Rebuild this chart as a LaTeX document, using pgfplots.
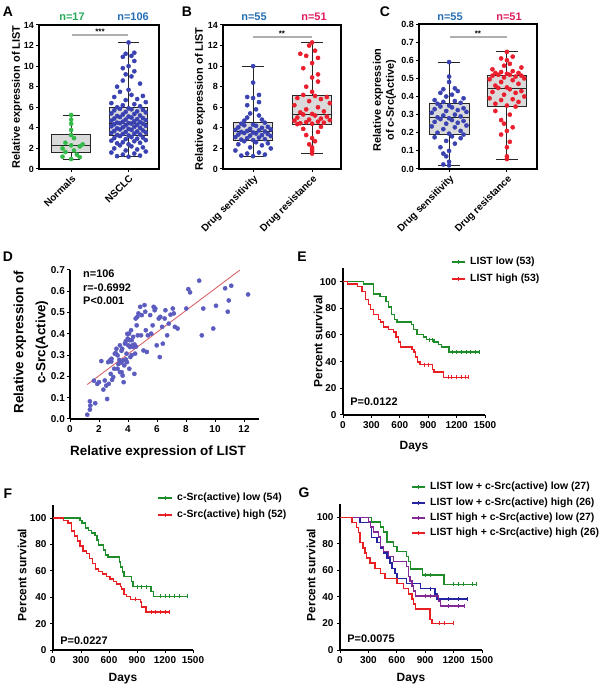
\documentclass[border=0pt]{standalone}
\usepackage{fontspec}
\setmainfont{Liberation Sans}
\usepackage{pgfplots}
\pgfplotsset{compat=1.18}
\usepgfplotslibrary{statistics}
\definecolor{ptgreen}{RGB}{52,186,72}
\definecolor{ptblue}{RGB}{58,66,178}
\definecolor{ptred}{RGB}{234,30,44}
\definecolor{ngreen}{RGB}{40,170,90}
\definecolor{nblue}{RGB}{35,110,180}
\definecolor{nred}{RGB}{222,30,90}
\definecolor{boxgray}{RGB}{218,218,218}
\definecolor{sigray}{RGB}{175,175,175}
\definecolor{dpt}{RGB}{92,92,192}
\definecolor{dline}{RGB}{222,96,104}
\definecolor{kmgreen}{RGB}{30,140,40}
\definecolor{kmred}{RGB}{232,32,36}
\definecolor{kmblue}{RGB}{36,36,160}
\definecolor{kmpurple}{RGB}{132,40,150}
\newcommand{\fs}[1]{\fontsize{#1}{#1}\selectfont\bfseries}
\newcommand{\legrow}[5]{%
  \draw[#4, line width=1.4bp] (#1bp,#3bp) -- (#2bp,#3bp);
  \draw[#4, line width=0.9bp] ({(#1+#2)/2*1bp},#3bp-2bp) -- ({(#1+#2)/2*1bp},#3bp+2bp);
  \node[anchor=west, inner sep=0pt, font=\fs{10.5}] at (#2bp+5bp,#3bp) {#5};}
\pgfplotsset{
  base/.style={
    scale only axis, anchor=south west,
    /pgf/number format/assume math mode=true,
    /pgf/number format/1000 sep={},
    tick align=outside, major tick length=3bp,
    tick style={line width=1bp, black},
    axis line style={-, line width=1.2bp, black},
    ticklabel style={font=\fs{9}},
    clip=false, tick pos=left,
  },
  boxax/.style={base, xtick={1,2}, ymin=0,
    xticklabel style={rotate=45, anchor=north east, font=\fs{10}, inner sep=1.5bp},
    yticklabel style={inner sep=2bp},
    width=118bp, height=144bp},
  bp/.style={draw=black!85, fill=boxgray, line width=0.9bp},
  pts/.style={only marks, mark=*, mark size=2.1bp, color=#1},
  km/.style={base, axis x line*=bottom, axis y line*=left, xmin=0, xmax=1500, ymin=0, ymax=110,
    xtick={0,300,600,900,1200,1500}, ytick={0,20,40,60,80,100},
    ticklabel style={font=\fs{10}}, width=142bp, height=146.7bp},
  kml/.style={const plot, color=#1, line width=1.4bp},
  cen/.style={only marks, mark=|, mark size=2bp, color=#1, mark options={line width=0.8bp}},
}
\begin{document}
\begin{tikzpicture}

% ---------------- A
\begin{scope}[shift={(39bp,520bp)}]
\begin{axis}[boxax, at={(0pt,0pt)}, width=120bp, xmin=0.44, xmax=2.53, ymax=14,
  ytick={0,2,4,6,8,10,12,14}, xticklabels={Normals,NSCLC}]
\addplot[bp, boxplot prepared={draw direction=y, lower whisker=0.97, lower quartile=1.65, median=2.3, upper quartile=3.33, upper whisker=5.25, draw position=1, box extend=0.67, whisker extend=0.3}] coordinates {};
\addplot[bp, boxplot prepared={draw direction=y, lower whisker=1.2, lower quartile=3.23, median=4.46, upper quartile=6.01, upper whisker=12.3, draw position=2, box extend=0.67, whisker extend=0.38}] coordinates {};
\addplot[pts=ptgreen] coordinates {(1.0,0.97)(1.15,1.15)(0.85,1.2)(1.1,1.4)(0.9,1.65)(1.05,1.8)(0.85,2.0)(1.15,2.2)(1.0,2.3)(1.2,2.4)(0.9,2.55)(1.05,3.0)(1.0,3.3)(1.0,3.8)(1.0,4.4)(1.0,4.8)(1.0,5.25)};
\addplot[pts=ptblue] coordinates {
(2,1.2)(1.8,1.25)(2.2,1.3)(1.9,1.4)(2.1,1.5)(1.7,1.6)(2.3,1.7)(1.95,1.8)(2.15,1.9)(1.75,2.0)(2.25,2.1)(2.05,2.2)(1.85,2.3)
(2,2.4)(1.8,2.5)(2.2,2.55)(1.9,2.6)(2.1,2.7)(1.7,2.75)(2.3,2.8)(1.95,2.9)(2.15,2.95)(1.75,3.0)(2.25,3.05)(2.05,3.1)(1.85,3.2)
(2,3.25)(1.8,3.3)(2.2,3.35)(1.9,3.4)(2.1,3.45)(1.7,3.5)(2.3,3.55)(1.95,3.6)(2.15,3.65)(1.75,3.7)(2.25,3.75)(2.05,3.8)(1.85,3.85)
(2,3.9)(1.8,3.95)(2.2,4.0)(1.9,4.05)(2.1,4.1)(1.7,4.15)(2.3,4.2)(1.95,4.25)(2.15,4.3)(1.75,4.35)(2.25,4.4)(2.05,4.42)(1.85,4.45)
(2,4.46)(1.8,4.5)(2.2,4.55)(1.9,4.6)(2.1,4.65)(1.7,4.7)(2.3,4.75)(1.95,4.8)(2.15,4.85)(1.75,4.9)(2.25,4.95)(2.05,5.0)(1.85,5.05)
(2,5.1)(1.8,5.15)(2.2,5.2)(1.9,5.3)(2.1,5.35)(1.7,5.4)(2.3,5.5)(1.95,5.55)(2.15,5.6)(1.75,5.7)(2.25,5.75)(2.05,5.8)(1.85,5.85)
(2,5.9)(1.8,6.0)(2.2,6.1)(1.9,6.2)(2.1,6.3)(1.7,6.4)(2.3,6.5)(1.95,6.7)(2.15,6.8)(1.75,7.0)(2.25,7.1)(2.05,7.2)(1.85,7.5)
(2,7.7)(1.8,8.0)(2.2,8.3)(1.9,8.6)(2.05,9.0)(1.95,9.2)(2.1,9.5)(1.9,9.8)(2.0,10.0)(2.1,10.5)(1.9,10.9)(2.05,11.0)(1.95,11.2)(2.1,11.3)(2.0,12.3)};
\end{axis}
\end{scope}

% ---------------- B
\begin{scope}[shift={(223bp,520bp)}]
\begin{axis}[boxax, at={(0pt,0pt)}, xmin=0.49, xmax=2.49, ymax=14,
  ytick={0,2,4,6,8,10,12,14}, xticklabels={Drug sensitivity,Drug resistance}]
\addplot[bp, boxplot prepared={draw direction=y, lower whisker=1.25, lower quartile=2.8, median=3.65, upper quartile=4.5, upper whisker=10.0, draw position=1, box extend=0.67, whisker extend=0.38}] coordinates {};
\addplot[bp, boxplot prepared={draw direction=y, lower whisker=1.5, lower quartile=4.36, median=5.33, upper quartile=7.18, upper whisker=12.3, draw position=2, box extend=0.67, whisker extend=0.38}] coordinates {};
\addplot[pts=ptblue] coordinates {
(1,1.25)(0.8,1.3)(1.2,1.4)(0.9,1.5)(1.1,1.6)(0.7,1.8)(1.3,2.0)(0.95,2.1)(1.15,2.3)(0.75,2.4)(1.25,2.5)(1.05,2.6)(0.85,2.7)
(1,2.8)(0.8,2.85)(1.2,2.9)(0.9,3.0)(1.1,3.05)(0.7,3.1)(1.3,3.2)(0.95,3.25)(1.15,3.3)(0.75,3.35)(1.25,3.4)(1.05,3.45)(0.85,3.5)
(1,3.55)(0.8,3.6)(1.2,3.65)(0.9,3.7)(1.1,3.75)(0.7,3.8)(1.3,3.85)(0.95,3.9)(1.15,4.0)(0.75,4.05)(1.25,4.1)(1.05,4.2)(0.85,4.25)
(1,4.3)(0.8,4.4)(1.2,4.5)
(0.85,4.7)(1.15,4.8)(0.9,5.0)(1.1,5.2)(0.95,5.4)(1.05,5.8)(0.9,6.2)(1.1,6.5)(1.0,6.9)(0.9,7.0)(1.1,7.2)(1.0,8.4)(1.0,10.0)};
\addplot[pts=ptred] coordinates {
(2,1.5)(2,1.7)(2,1.9)(2,2.1)(1.95,2.4)(2.05,2.7)(2,3.0)(1.9,3.3)(2.1,3.6)(1.85,3.9)(2.15,4.1)(1.75,4.36)
(2,4.4)(1.8,4.45)(2.2,4.5)(1.9,4.55)(2.1,4.6)(1.7,4.7)(2.3,4.75)(1.95,4.8)(2.15,4.9)(1.75,5.0)(2.25,5.1)(2.05,5.2)(1.85,5.3)
(2,5.35)(1.8,5.5)(2.2,5.6)(1.9,5.8)(2.1,6.0)(1.7,6.2)(2.3,6.4)(1.95,6.6)(2.15,6.8)(1.75,6.9)(2.25,7.0)(2.05,7.1)(1.85,7.2)
(2.0,7.5)(1.9,8.0)(2.1,8.5)(2.0,8.9)(2.1,9.2)(1.85,9.8)(2.0,10.3)(2.1,10.8)(1.9,11.0)(1.8,11.2)(2.05,11.5)(1.95,12.0)(2.0,12.3)};
\end{axis}
\end{scope}

% ---------------- C
\begin{scope}[shift={(419bp,520bp)}]
\begin{axis}[boxax, at={(0pt,0pt)}, height=145bp, xmin=0.48, xmax=2.52, ymax=0.8,
  ytick={0,0.1,0.2,0.3,0.4,0.5,0.6,0.7,0.8},
  yticklabel style={/pgf/number format/fixed, /pgf/number format/fixed zerofill, /pgf/number format/precision=1},
  xticklabels={Drug sensitivity,Drug resistance}]
\addplot[bp, boxplot prepared={draw direction=y, lower whisker=0.02, lower quartile=0.19, median=0.285, upper quartile=0.36, upper whisker=0.59, draw position=1, box extend=0.69, whisker extend=0.38}] coordinates {};
\addplot[bp, boxplot prepared={draw direction=y, lower whisker=0.055, lower quartile=0.344, median=0.447, upper quartile=0.515, upper whisker=0.646, draw position=2, box extend=0.69, whisker extend=0.38}] coordinates {};
\addplot[pts=ptblue] coordinates {
(1.0,0.02)(0.9,0.025)(1.0,0.04)(0.95,0.07)(0.9,0.085)(1.0,0.1)(0.85,0.12)(1.1,0.14)(0.95,0.155)(1.2,0.17)(0.75,0.175)(1.05,0.18)(1.25,0.19)
(1,0.195)(0.8,0.2)(1.2,0.21)(0.9,0.22)(1.1,0.23)(0.7,0.235)(1.3,0.24)(0.95,0.25)(1.15,0.255)(0.75,0.26)(1.25,0.265)(1.05,0.27)(0.85,0.275)(1,0.28)
(0.8,0.285)(1.2,0.29)(0.9,0.295)(1.1,0.3)(0.7,0.31)(1.3,0.315)(0.95,0.32)(1.15,0.325)(0.75,0.33)(1.25,0.335)(1.05,0.34)(0.85,0.345)(1,0.35)(0.8,0.36)
(1.2,0.365)(0.9,0.37)(1.1,0.375)(0.75,0.38)(1.25,0.39)(0.95,0.4)(1.05,0.41)(0.85,0.42)(1.15,0.43)(0.9,0.44)(1.1,0.445)(1.0,0.48)(1.0,0.51)(1.0,0.59)};
\addplot[pts=ptred] coordinates {
(2,0.055)(2,0.07)(2.0,0.12)(2.05,0.15)(1.9,0.19)(2.0,0.21)(2.1,0.23)(1.95,0.25)(1.9,0.27)(2.05,0.3)(1.8,0.32)(2.15,0.344)
(2,0.35)(1.8,0.36)(2.2,0.37)(1.9,0.38)(2.1,0.385)(1.7,0.39)(2.3,0.4)(1.95,0.41)(2.15,0.42)(1.75,0.425)(2.25,0.43)(2.05,0.44)(1.85,0.447)
(2,0.45)(1.8,0.46)(2.2,0.47)(1.9,0.48)(2.1,0.49)(1.7,0.495)(2.3,0.5)(1.95,0.505)(2.15,0.51)(1.75,0.515)(2.25,0.515)(2.05,0.52)(1.85,0.52)
(2,0.525)(1.8,0.53)(2.2,0.53)(1.9,0.535)(2.1,0.54)(1.75,0.55)(2.25,0.56)(1.95,0.57)(2.05,0.58)(2.0,0.6)(1.9,0.61)(2.1,0.62)(2.0,0.646)};
\end{axis}
\end{scope}

% ---------------- D
\begin{scope}[shift={(70bp,270bp)}]
\begin{axis}[base, at={(0pt,0pt)}, width=188.5bp, height=149bp, axis x line*=bottom, axis y line*=left,
  xmin=0, xmax=13, ymin=0, ymax=0.7, xtick={0,2,4,6,8,10,12}, ytick={0,0.1,0.2,0.3,0.4,0.5,0.6,0.7},
  yticklabel style={/pgf/number format/fixed, /pgf/number format/fixed zerofill, /pgf/number format/precision=1, inner sep=2bp},
  ticklabel style={font=\fs{10}}]
\addplot[only marks, mark=*, mark size=2.1bp, color=dpt] coordinates {
(1.19,0.02)(1.37,0.044)(1.40,0.063)(1.37,0.083)(1.74,0.074)(1.65,0.18)(1.88,0.165)(2.00,0.173)(2.16,0.272)(2.30,0.138)
(2.40,0.181)(2.56,0.094)(2.50,0.157)(2.67,0.165)(2.63,0.267)(2.74,0.275)(2.86,0.283)(2.81,0.212)(2.98,0.197)(2.90,0.184)
(3.05,0.236)(3.09,0.307)(3.20,0.330)(3.28,0.299)(3.28,0.236)(3.33,0.258)(3.40,0.278)(3.44,0.346)(3.51,0.264)(3.56,0.220)
(3.60,0.330)(3.63,0.204)(3.67,0.275)(3.70,0.173)(3.74,0.252)(3.79,0.354)(3.84,0.365)(3.90,0.307)(3.93,0.267)(3.98,0.378)
(4.02,0.346)(4.07,0.401)(4.09,0.236)(4.14,0.338)(4.16,0.291)(4.21,0.417)(4.26,0.370)(4.30,0.346)(4.35,0.386)(4.40,0.338)
(4.44,0.212)(4.49,0.307)(4.53,0.472)(4.60,0.440)(4.65,0.480)(4.72,0.496)(4.67,0.393)(4.84,0.527)(4.90,0.393)(4.95,0.488)
(5.07,0.322)(5.14,0.535)(5.19,0.504)(5.23,0.417)(5.30,0.315)(5.37,0.393)(5.53,0.488)(5.60,0.401)(5.70,0.440)(5.77,0.527)
(5.84,0.511)(5.88,0.519)(5.98,0.346)(6.12,0.472)(6.19,0.291)(6.23,0.480)(6.35,0.433)(6.40,0.354)(6.53,0.472)(6.58,0.511)
(6.70,0.393)(6.81,0.448)(6.93,0.490)(7.09,0.519)(7.16,0.496)(7.23,0.433)(7.42,0.425)(8.02,0.519)(8.16,0.610)(8.28,0.595)
(8.91,0.650)(9.09,0.393)(9.19,0.519)(9.88,0.425)(10.07,0.532)(10.70,0.614)(10.88,0.504)(10.95,0.557)(11.12,0.626)(12.28,0.585)
(3.15,0.31)(3.45,0.22)(3.95,0.40)(4.12,0.37)(4.45,0.35)(4.55,0.34)(3.85,0.28)(4.25,0.30)(2.85,0.27)(3.55,0.32)};
\addplot[dline, line width=0.9bp] coordinates {(1.19,0.162)(11.72,0.70)};
\end{axis}
\end{scope}

% ---------------- E
\begin{scope}[shift={(343bp,274bp)}]
\begin{axis}[km, at={(0pt,0pt)}]
\addplot[kml=kmgreen] coordinates {(0,100)(215,98.1)(320,90.6)(390,88.7)(455,84.9)(480,81.1)(515,75.5)(545,71.7)(570,69.8)(725,67.9)(745,64.2)(780,60.4)(850,58.5)(885,56.6)(960,54.7)(1010,52.8)(1040,50.9)(1120,47.2)(1440,47.2)};
\addplot[kml=kmred] coordinates {(0,100)(50,98.1)(150,96.2)(200,92.5)(235,86.8)(270,83.0)(290,79.2)(320,75.5)(375,71.7)(395,69.8)(430,66.0)(480,64.2)(535,62.3)(560,58.5)(585,54.7)(610,50.9)(730,49.1)(750,47.2)(765,43.4)(790,39.6)(815,37.7)(945,34.0)(960,32.1)(1060,28.3)(1320,28.3)};
\addplot[cen=kmgreen] coordinates {(910,56.6)(940,56.6)(1160,47.2)(1200,47.2)(1250,47.2)(1300,47.2)(1350,47.2)(1400,47.2)(1440,47.2)};
\addplot[cen=kmred] coordinates {(860,37.7)(900,37.7)(1110,28.3)(1150,28.3)(1200,28.3)(1250,28.3)(1290,28.3)(1320,28.3)};
\end{axis}
\end{scope}

% ---------------- F
\begin{scope}[shift={(53bp,39bp)}]
\begin{axis}[km, at={(0pt,0pt)}, width=140bp, height=145bp]
\addplot[kml=kmgreen] coordinates {(0,100)(290,98.1)(310,96.3)(345,92.6)(380,90.7)(415,88.9)(450,87.0)(470,83.3)(490,79.6)(540,75.9)(560,72.2)(590,70.4)(710,66.7)(725,63.0)(745,59.3)(760,55.6)(840,51.9)(855,48.1)(1050,44.4)(1075,40.7)(1440,40.7)};
\addplot[kml=kmred] coordinates {(0,100)(110,98.1)(160,96.2)(200,90.4)(230,86.5)(260,82.7)(290,78.8)(320,75.0)(360,73.1)(390,69.2)(420,65.4)(455,61.5)(490,59.6)(530,57.7)(570,55.8)(610,53.8)(650,51.9)(680,50.0)(720,48.1)(735,46.2)(760,42.3)(790,40.4)(830,38.5)(935,36.5)(950,32.7)(995,28.8)(1250,28.8)};
\addplot[cen=kmgreen] coordinates {(900,48.1)(950,48.1)(1000,48.1)(1150,40.7)(1200,40.7)(1250,40.7)(1300,40.7)(1350,40.7)(1440,40.7)};
\addplot[cen=kmred] coordinates {(880,38.5)(1050,28.8)(1100,28.8)(1150,28.8)(1200,28.8)(1250,28.8)};
\end{axis}
\end{scope}

% ---------------- G
\begin{scope}[shift={(340bp,39bp)}]
\begin{axis}[km, at={(0pt,0pt)}, height=146bp]
\addplot[kml=kmgreen] coordinates {(0,100)(335,96.3)(425,92.6)(460,88.9)(495,81.5)(565,77.8)(600,74.1)(705,70.4)(725,66.7)(745,61.1)(870,56.5)(1100,49.4)(1440,49.4)};
\addplot[kml=kmblue] coordinates {(0,100)(210,96.2)(320,92.3)(335,84.6)(390,80.8)(425,76.9)(460,73.1)(495,69.2)(530,65.4)(550,61.5)(580,57.7)(600,53.8)(705,50.0)(850,46.2)(1005,42.3)(1025,38.5)(1350,38.5)};
\addplot[kml=kmpurple] coordinates {(0,100)(300,96.3)(320,92.6)(355,88.9)(405,85.2)(425,77.8)(460,74.1)(510,70.4)(565,66.7)(705,63.0)(725,55.6)(740,51.9)(760,48.1)(775,44.4)(795,40.7)(1040,37.0)(1060,33.3)(1310,33.3)};
\addplot[kml=kmred] coordinates {(0,100)(125,96.2)(175,92.3)(195,88.5)(210,80.8)(245,76.9)(265,73.1)(280,69.2)(318,65.4)(370,61.5)(425,57.7)(475,53.8)(600,50.0)(670,46.2)(725,42.3)(760,38.5)(775,34.6)(795,30.8)(950,23.1)(970,20.0)(1200,20.0)};
\addplot[cen=kmgreen] coordinates {(900,56.5)(950,56.5)(1200,49.4)(1250,49.4)(1300,49.4)(1400,49.4)(1440,49.4)};
\addplot[cen=kmblue] coordinates {(950,46.2)(1150,38.5)(1250,38.5)(1350,38.5)};
\addplot[cen=kmpurple] coordinates {(900,40.7)(950,40.7)(1150,33.3)(1250,33.3)(1310,33.3)};
\addplot[cen=kmred] coordinates {(1050,20)(1100,20)(1200,20)};
\end{axis}
\end{scope}

\begin{scope}[x=1bp,y=1bp]
% ---------------- panel letters
\node[font=\fs{14}] at (8,677) {A};
\node[font=\fs{14}] at (187,677) {B};
\node[font=\fs{14}] at (385,677) {C};
\node[font=\fs{14}] at (8,432) {D};
\node[font=\fs{14}] at (302,432) {E};
\node[font=\fs{14}] at (8,195) {F};
\node[font=\fs{14}] at (304,196) {G};

% ---------------- n labels
\node[font=\fs{11}, text=ngreen] at (72,672.5) {n=17};
\node[font=\fs{11}, text=nblue] at (133,672.5) {n=106};
\node[font=\fs{11}, text=nblue] at (254,672.5) {n=55};
\node[font=\fs{11}, text=nred] at (314,672.5) {n=51};
\node[font=\fs{11}, text=nblue] at (450,672.5) {n=55};
\node[font=\fs{11}, text=nred] at (509,672.5) {n=51};

% ---------------- significance
\draw[sigray, line width=1.2bp] (72,654) -- (128,654);
\node[font=\fs{8}] at (100,657) {***};
\draw[sigray, line width=1.2bp] (253,652) -- (312,652);
\node[font=\fs{8}] at (282,655) {**};
\draw[sigray, line width=1.2bp] (450,652) -- (507,652);
\node[font=\fs{8}] at (478,655) {**};

% ---------------- axis titles
\node[rotate=90, font=\fs{11}, inner sep=0pt] at (17,592) {Relative expression of LIST};
\node[rotate=90, font=\fs{11}, inner sep=0pt] at (200,590) {Relative expression of LIST};
\node[rotate=90, font=\fs{11}, inner sep=0pt] at (378,589) {Relative expression};
\node[rotate=90, font=\fs{11}, inner sep=0pt] at (391,589) {of c-Src(Active)};
\node[rotate=90, font=\fs{13.5}, inner sep=0pt] at (20,347) {Relative expression of};
\node[rotate=90, font=\fs{13.5}, inner sep=0pt] at (42,347) {c-Src(Active)};
\node[font=\fs{13.5}] at (158,237) {Relative expression of LIST};
\node[anchor=west, font=\fs{11}, inner sep=0pt] at (83,415) {n=106};
\node[anchor=west, font=\fs{11}, inner sep=0pt] at (83,401) {r=-0.6992};
\node[anchor=west, font=\fs{11}, inner sep=0pt] at (83,388) {P<0.001};

\node[rotate=90, font=\fs{12}, inner sep=0pt] at (318,348) {Percent survival};
\node[font=\fs{12}] at (414,242) {Days};
\node[font=\fs{11}] at (374,287) {P=0.0122};
\node[rotate=90, font=\fs{12}, inner sep=0pt] at (22,114) {Percent survival};
\node[font=\fs{12}] at (123,10) {Days};
\node[font=\fs{11}] at (84,48) {P=0.0227};
\node[rotate=90, font=\fs{12}, inner sep=0pt] at (311,114) {Percent survival};
\node[font=\fs{12}] at (411,10) {Days};
\node[font=\fs{11}] at (371,50) {P=0.0075};
\end{scope}

% ---------------- legends
\legrow{452}{465}{427}{kmgreen}{LIST low (53)}
\legrow{452}{465}{410}{kmred}{LIST high (53)}
\legrow{158}{172}{191}{kmgreen}{c-Src(active) low (54)}
\legrow{158}{172}{174}{kmred}{c-Src(active) high (52)}
\legrow{412}{425}{202}{kmgreen}{LIST low + c-Src(active) low (27)}
\legrow{412}{425}{186}{kmblue}{LIST low + c-Src(active) high (26)}
\legrow{412}{425}{171}{kmpurple}{LIST high + c-Src(active) low (27)}
\legrow{412}{425}{156}{kmred}{LIST high + c-Src(active) high (26)}

\pgfresetboundingbox
\useasboundingbox (0bp,0bp) rectangle (600bp,689bp);
\end{tikzpicture}
\end{document}
